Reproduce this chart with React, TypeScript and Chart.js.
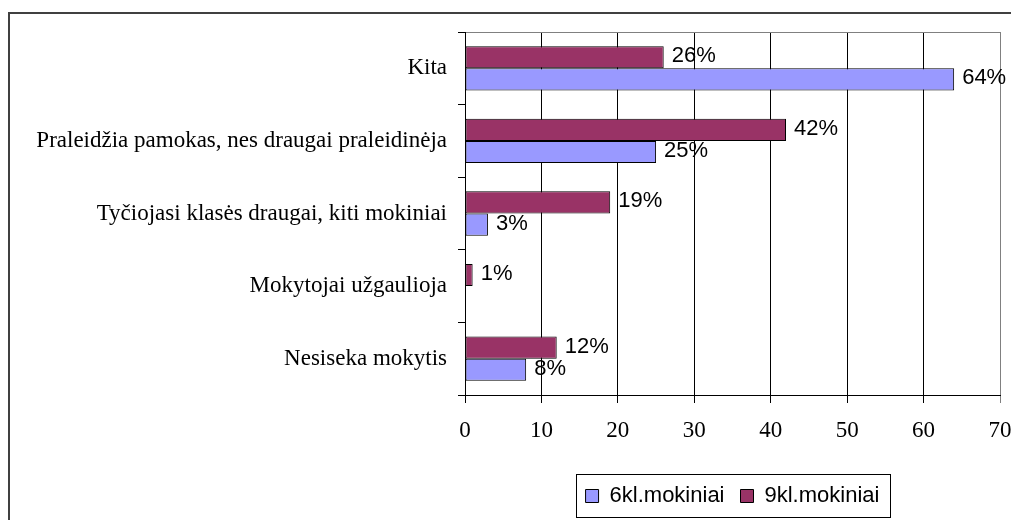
import React, { useEffect, useRef } from "react";
import Chart from "chart.js/auto";

const categories = [
  "Kita",
  "Praleidžia pamokas, nes draugai praleidinėja",
  "Tyčiojasi klasės draugai, kiti mokiniai",
  "Mokytojai užgaulioja",
  "Nesiseka mokytis",
];
const series6kl: (number | null)[] = [64, 25, 3, null, 8];
const series9kl: (number | null)[] = [26, 42, 19, 1, 12];
const seriesNames = ["6kl.mokiniai", "9kl.mokiniai"];
const xTicksMin = 0;
const xTicksMax = 70;
const xTicksStep = 10;

const SANS = "'Liberation Sans', Arial, sans-serif";
const SERIF = "'Liberation Serif', 'Times New Roman', serif";

const valueLabels = {
  id: "valueLabels",
  afterDatasetsDraw(chart: any) {
    const ctx = chart.ctx;
    ctx.save();
    ctx.font = `22px ${SANS}`;
    ctx.fillStyle = "#000";
    ctx.textAlign = "left";
    ctx.textBaseline = "middle";
    chart.data.datasets.forEach((ds: any, di: number) => {
      const meta = chart.getDatasetMeta(di);
      meta.data.forEach((bar: any, i: number) => {
        const v = ds.data[i];
        if (v === null || v === undefined) return;
        ctx.fillText(`${v}%`, bar.x + 8, bar.y - 1);
      });
    });
    ctx.restore();
  },
};

const legendBorder = {
  id: "legendBorder",
  afterDraw(chart: any) {
    const lg = chart.legend;
    if (!lg || !lg.legendHitBoxes || !lg.legendHitBoxes.length) return;
    const hb = lg.legendHitBoxes;
    let l = Infinity, r = -Infinity, t = Infinity, b = -Infinity;
    hb.forEach((h: any) => {
      l = Math.min(l, h.left);
      r = Math.max(r, h.left + h.width);
      t = Math.min(t, h.top);
      b = Math.max(b, h.top + h.height);
    });
    const ctx = chart.ctx;
    ctx.save();
    ctx.strokeStyle = "#000";
    ctx.lineWidth = 1;
    ctx.strokeRect(Math.round(l - 10) + 0.5, Math.round(t - 11) + 0.5, Math.round(r - l + 20), Math.round(b - t + 21));
    ctx.restore();
  },
};

export default function App() {
  const ref = useRef<HTMLCanvasElement>(null);
  useEffect(() => {
    if (!ref.current) return;
    const chart = new Chart(ref.current, {
      type: "bar",
      data: {
        labels: categories,
        datasets: [
          {
            label: seriesNames[1],
            data: series9kl,
            backgroundColor: "#993366",
            borderColor: "#000",
            borderWidth: 1,
            borderSkipped: false,
            categoryPercentage: 0.61,
            barPercentage: 1,
          },
          {
            label: seriesNames[0],
            data: series6kl,
            backgroundColor: "#9999FF",
            borderColor: "#000",
            borderWidth: 1,
            borderSkipped: false,
            categoryPercentage: 0.61,
            barPercentage: 1,
          },
        ],
      },
      options: {
        indexAxis: "y",
        animation: false,
        responsive: false,
        devicePixelRatio: 1,
        layout: { padding: { top: 18, right: 11, left: 0, bottom: 3 } },
        scales: {
          x: {
            type: "linear",
            position: "bottom",
            min: xTicksMin,
            max: xTicksMax,
            ticks: {
              stepSize: xTicksStep,
              color: "#000",
              font: { family: SERIF, size: 23 },
              padding: 14,
              maxRotation: 0,
            },
            grid: {
              color: (c: any) => (c.tick && c.tick.value === 70 ? "#808080" : "#000"),
              tickLength: 8,
              lineWidth: 1,
            },
            border: { color: "#000" },
            afterFit: (s: any) => {
              s.height = 74;
              s.paddingLeft = 0;
              s.paddingRight = 0;
            },
          },
          x2: {
            type: "linear",
            position: "top",
            min: xTicksMin,
            max: xTicksMax,
            ticks: { display: false },
            grid: { display: false },
            border: { display: true, color: "#808080" },
            afterFit: (s: any) => {
              s.height = 0;
              s.paddingLeft = 0;
              s.paddingRight = 0;
            },
          },
          y: {
            type: "category",
            offset: true,
            ticks: {
              color: "#000",
              font: { family: SERIF, size: 23 },
              padding: 11,
            },
            grid: {
              offset: true,
              drawOnChartArea: false,
              tickLength: 7,
              color: "#000",
            },
            border: { color: "#000" },
            afterFit: (s: any) => {
              s.width = 455;
              s.paddingTop = 0;
              s.paddingBottom = 0;
            },
          },
        },
        plugins: {
          legend: {
            position: "bottom",
            fullSize: false,
            reverse: true,
            labels: {
              boxWidth: 13,
              boxHeight: 13,
              padding: 16,
              color: "#000",
              font: { family: SANS, size: 22 },
            },
          },
          tooltip: { enabled: false },
        },
      },
      plugins: [valueLabels, legendBorder],
    });
    return () => chart.destroy();
  }, []);

  return (
    <div
      style={{
        position: "fixed",
        left: 0,
        top: 0,
        width: 1011,
        height: 520,
        overflow: "hidden",
        background: "#fff",
      }}
    >
      <div
        style={{
          position: "absolute",
          left: 8,
          top: 12,
          width: 1100,
          height: 600,
          borderLeft: "2px solid #404040",
          borderTop: "2px solid #404040",
        }}
      />
      <canvas
        ref={ref}
        width={1001}
        height={506}
        style={{ position: "absolute", left: 10, top: 14, width: 1001, height: 506 }}
      />
    </div>
  );
}
